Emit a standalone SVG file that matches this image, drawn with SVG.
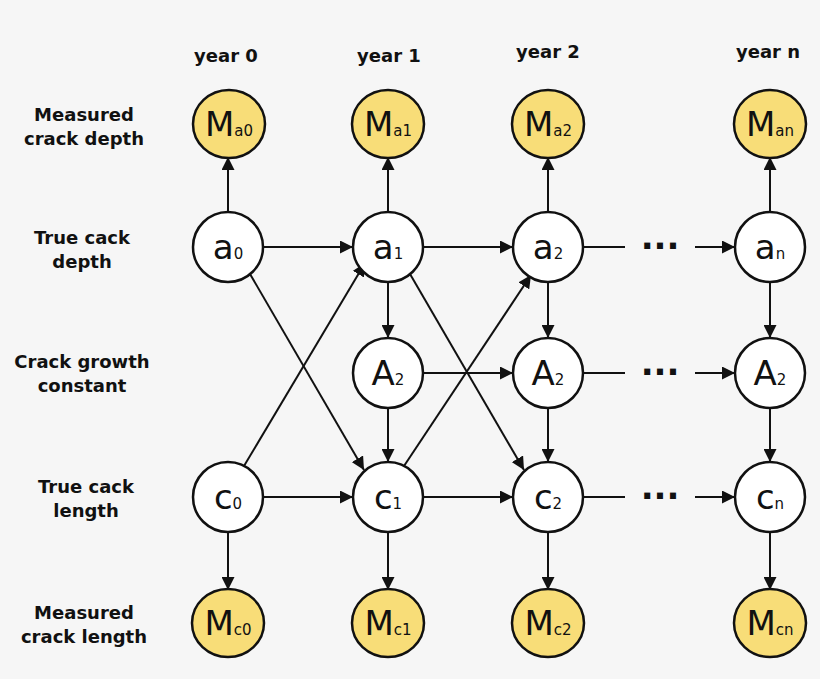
<svg xmlns="http://www.w3.org/2000/svg" width="820" height="679" viewBox="0 0 820 679">
<style>
.n{fill:#fff;stroke:#111;stroke-width:2.5}
.m{fill:#f8dd78;stroke:#111;stroke-width:2.5}
.t{font-family:"DejaVu Sans",sans-serif;font-size:34px;fill:#111;text-anchor:middle}
.s{font-size:15px}
.l{font-family:"DejaVu Sans",sans-serif;font-weight:bold;font-size:18px;fill:#111;text-anchor:middle}
.d{font-family:"DejaVu Sans",sans-serif;font-weight:bold;font-size:34px;fill:#111;text-anchor:middle}
</style>
<defs><marker id="ar2" viewBox="0 0 10 10" refX="10" refY="5" markerWidth="13" markerHeight="13" orient="auto" markerUnits="userSpaceOnUse"><path d="M0,0L10,5L0,10z" fill="#111"/></marker></defs>
<rect width="820" height="679" fill="#f6f6f6"/>
<g id="labels" class="l">
<text x="226" y="62">year 0</text><text x="389" y="62">year 1</text><text x="548" y="58">year 2</text><text x="768" y="58">year n</text>
<text x="84" y="121">Measured</text><text x="84" y="145">crack depth</text>
<text x="82" y="244">True cack</text><text x="82" y="268">depth</text>
<text x="82" y="368">Crack growth</text><text x="82" y="392">constant</text>
<text x="86" y="493">True cack</text><text x="86" y="517">length</text>
<text x="84" y="619">Measured</text><text x="84" y="643">crack length</text>
</g>
<g id="edges">
<g stroke="#111" stroke-width="2" fill="none" marker-end="url(#ar2)">
<path d="M228 212V157"/><path d="M388 212V157"/><path d="M548 212V157"/><path d="M770 212V157"/>
<path d="M228 532V590"/><path d="M388 532V590"/><path d="M548 532V590"/><path d="M770 532V590"/>
<path d="M263 247H353"/><path d="M423 247H513"/><path d="M695 247H735"/>
<path d="M263 497H353"/><path d="M423 497H513"/><path d="M695 497H735"/>
<path d="M423 373H513"/><path d="M695 373H735"/>
<path d="M388 282V338"/><path d="M548 282V338"/><path d="M770 282V338"/>
<path d="M388 408V462"/><path d="M548 408V462"/><path d="M770 408V462"/>
<path d="M250 274L364 470"/><path d="M244 466L365 263"/>
<path d="M410 274L524 470"/><path d="M404 466L531 275"/>
</g>
<g stroke="#111" stroke-width="2"><path d="M583 247H625"/><path d="M583 373H625"/><path d="M583 497H625"/></g>
<text class="d" x="660" y="258">···</text><text class="d" x="660" y="384">···</text><text class="d" x="660" y="508">···</text>
</g>
<g id="Ma0"><ellipse class="m" cx="229" cy="124" rx="36" ry="34"/><text class="t" x="229" y="136">M<tspan class="s">a0</tspan></text></g>
<g id="Ma1"><ellipse class="m" cx="388" cy="124" rx="36" ry="34"/><text class="t" x="388" y="136">M<tspan class="s">a1</tspan></text></g>
<g id="Ma2"><ellipse class="m" cx="548" cy="124" rx="36" ry="34"/><text class="t" x="548" y="136">M<tspan class="s">a2</tspan></text></g>
<g id="Man"><ellipse class="m" cx="770" cy="124" rx="36" ry="34"/><text class="t" x="770" y="136">M<tspan class="s">an</tspan></text></g>
<g id="a0"><circle class="n" cx="228" cy="247" r="35"/><text class="t" x="228" y="259">a<tspan class="s">0</tspan></text></g>
<g id="a1"><circle class="n" cx="388" cy="247" r="35"/><text class="t" x="388" y="259">a<tspan class="s">1</tspan></text></g>
<g id="a2"><circle class="n" cx="548" cy="247" r="35"/><text class="t" x="548" y="259">a<tspan class="s">2</tspan></text></g>
<g id="an"><circle class="n" cx="770" cy="247" r="35"/><text class="t" x="770" y="259">a<tspan class="s">n</tspan></text></g>
<g id="A1"><circle class="n" cx="388" cy="373" r="35"/><text class="t" x="388" y="385">A<tspan class="s">2</tspan></text></g>
<g id="A2"><circle class="n" cx="548" cy="373" r="35"/><text class="t" x="548" y="385">A<tspan class="s">2</tspan></text></g>
<g id="An"><circle class="n" cx="770" cy="373" r="35"/><text class="t" x="770" y="385">A<tspan class="s">2</tspan></text></g>
<g id="c0"><circle class="n" cx="228" cy="497" r="35"/><text class="t" x="228" y="509">c<tspan class="s">0</tspan></text></g>
<g id="c1"><circle class="n" cx="388" cy="497" r="35"/><text class="t" x="388" y="509">c<tspan class="s">1</tspan></text></g>
<g id="c2"><circle class="n" cx="548" cy="497" r="35"/><text class="t" x="548" y="509">c<tspan class="s">2</tspan></text></g>
<g id="cn"><circle class="n" cx="770" cy="497" r="35"/><text class="t" x="770" y="509">c<tspan class="s">n</tspan></text></g>
<g id="Mc0"><ellipse class="m" cx="228" cy="623" rx="36" ry="34"/><text class="t" x="228" y="635">M<tspan class="s">c0</tspan></text></g>
<g id="Mc1"><ellipse class="m" cx="388" cy="623" rx="36" ry="34"/><text class="t" x="388" y="635">M<tspan class="s">c1</tspan></text></g>
<g id="Mc2"><ellipse class="m" cx="548" cy="623" rx="36" ry="34"/><text class="t" x="548" y="635">M<tspan class="s">c2</tspan></text></g>
<g id="Mcn"><ellipse class="m" cx="770" cy="623" rx="36" ry="34"/><text class="t" x="770" y="635">M<tspan class="s">cn</tspan></text></g>
</svg>
